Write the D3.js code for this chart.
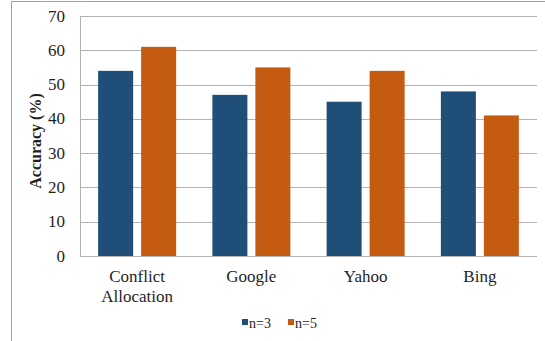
<!DOCTYPE html>
<html><head><meta charset="utf-8">
<script src="https://cdn.jsdelivr.net/npm/d3@7"></script>
<style>html,body{margin:0;padding:0;background:#fff;}svg{display:block;}
svg text{font-family:"Liberation Serif","Times New Roman",serif;}</style>
</head><body>
<script>
const categories = [["Conflict","Allocation"],["Google"],["Yahoo"],["Bing"]];
const seriesNames = ["n=3","n=5"];
const n3Values = [54, 47, 45, 48];
const n5Values = [61, 55, 54, 41];
const yTicks = [0,10,20,30,40,50,60,70];
const colors = ["#1f4e79","#c55a11"];

(function(){
const W = 545, H = 341;
const svg = d3.select("body").append("svg").attr("width", W).attr("height", H);

svg.append("rect").attr("x",11.5).attr("y",1.5).attr("width",600).attr("height",400)
  .attr("fill","#fff").attr("stroke","#a0a0a0").attr("stroke-width",1);

const pLeft = 80, pRight = 537, pTop = 16, pBottom = 256;
const catKeys = categories.map(c => c.join(" "));
const x0 = d3.scaleBand().domain(catKeys).range([pLeft, pRight]).padding(0);
const bw = x0.bandwidth();
const x1 = d3.scaleBand().domain(seriesNames).range([(bw-78)/2, (bw+78)/2]).paddingInner(0.186).paddingOuter(0);
const y = d3.scaleLinear().domain([0,70]).range([pBottom, pTop]);

// gridlines
svg.append("g").selectAll("line").data(yTicks).join("line")
  .attr("x1", pLeft).attr("x2", pRight)
  .attr("y1", d => Math.round(y(d)) + 0.5).attr("y2", d => Math.round(y(d)) + 0.5)
  .attr("stroke", "#b3b3b3").attr("stroke-width", 1);
svg.append("line").attr("x1", pLeft+0.5).attr("x2", pLeft+0.5).attr("y1", pTop).attr("y2", pBottom+1)
  .attr("stroke", "#b3b3b3");

// y tick labels
svg.append("g").selectAll("text").data(yTicks).join("text")
  .attr("x", 65).attr("y", d => y(d) + 5.5)
  .attr("text-anchor", "end").attr("font-size", 17).attr("fill", "#1f1f1f")
  .text(d => d);

// bars
const data = catKeys.map((k,i) => ({k, vals: [n3Values[i], n5Values[i]]}));
const g = svg.append("g");
data.forEach(d => {
  d.vals.forEach((v, j) => {
    g.append("rect")
      .attr("x", x0(d.k) + x1(seriesNames[j]))
      .attr("y", y(v))
      .attr("width", x1.bandwidth())
      .attr("height", pBottom - y(v))
      .attr("fill", colors[j]);
  });
});

// x labels
categories.forEach((c, i) => {
  const t = svg.append("text").attr("text-anchor","middle")
    .attr("font-size", 17).attr("fill", "#1f1f1f");
  c.forEach((line, li) => {
    t.append("tspan").attr("x", x0(catKeys[i]) + bw/2).attr("y", 282 + li*20).text(line);
  });
});

// y axis title
svg.append("text").attr("transform", "translate(41,141) rotate(-90)")
  .attr("text-anchor","middle").attr("font-size", 16)
  .attr("font-weight","bold").attr("fill","#1f1f1f").text("Accuracy (%)");

// legend
const legendX = [242, 288];
seriesNames.forEach((s, j) => {
  svg.append("rect").attr("x", legendX[j]).attr("y", 319).attr("width", 6).attr("height", 6).attr("fill", colors[j]);
  svg.append("text").attr("x", legendX[j] + 7).attr("y", 328)
    .attr("font-size", 14).attr("fill", "#1f1f1f").text(s);
});
})();
</script>
</body></html>
